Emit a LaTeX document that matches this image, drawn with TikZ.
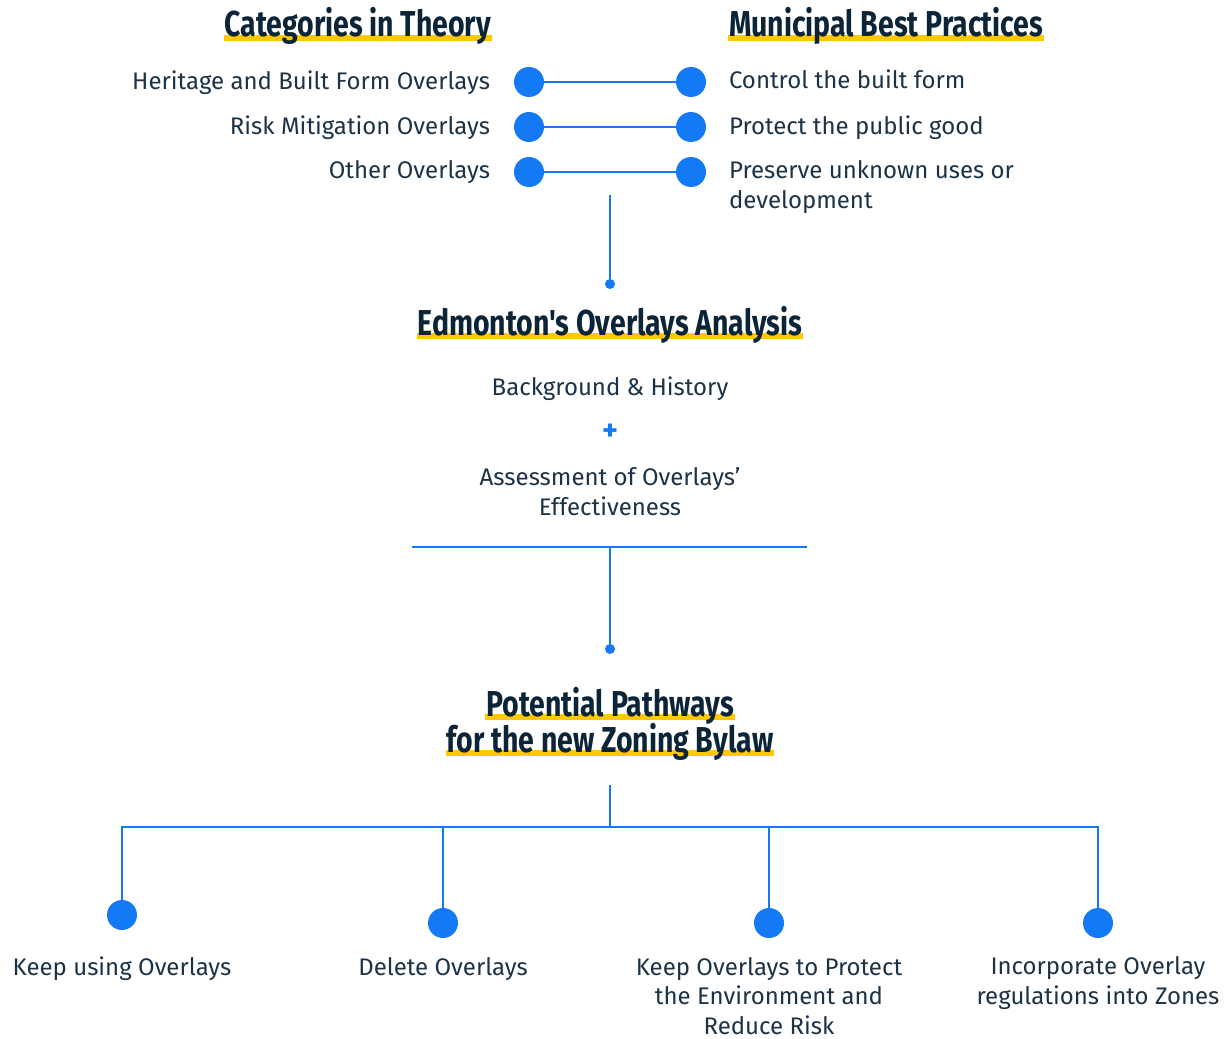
\documentclass[tikz,border=0pt]{standalone}
\usepackage{fontspec}
\setmainfont{Fira Sans}
\newfontfamily\titlefont{Fira Sans}[FakeStretch=0.79]
\usetikzlibrary{positioning,backgrounds}
\definecolor{navy}{HTML}{0B2437}
\definecolor{ink}{HTML}{1C3347}
\definecolor{azure}{HTML}{1479F5}
\definecolor{sun}{HTML}{FFC800}

\begin{document}
\begin{tikzpicture}[x=1pt,y=-1pt,
    title/.style={inner sep=0pt,outer sep=0pt,text=navy,font=\titlefont\bfseries\fontsize{36}{36}\selectfont},
    body/.style={inner sep=0pt,outer sep=0pt,text=ink,font=\fontsize{24}{29.5}\selectfont},
    bigdot/.style={circle,fill=azure,inner sep=0pt,minimum size=30pt},
    smalldot/.style={circle,fill=azure,inner sep=0pt,minimum size=10pt},
    link/.style={draw=azure,line width=1.3pt},
    hl/.style={fill=sun}]
        \useasboundingbox (0,0) rectangle (1230,1038);
        %
        \node[title,anchor=base east](cat) at (491,37){Categories in Theory};
        \node[title,anchor=base west](mbp) at (729,37){Municipal Best Practices};
        %
        \node[bigdot](d1) at (529,82){};
        \node[bigdot](d2) at (529,127){};
        \node[bigdot](d3) at (529,172){};
        \node[bigdot](e1) at (691,82){};
        \node[bigdot](e2) at (691,127){};
        \node[bigdot](e3) at (691,172){};
        \draw[link] (d1) -- (e1);
        \draw[link] (d2) -- (e2);
        \draw[link] (d3) -- (e3);
        %
        \node[body,anchor=base east](h1) at (490,90){Heritage and Built Form Overlays};
        \node[body,anchor=base east](h2) at (490,134){Risk Mitigation Overlays};
        \node[body,anchor=base east](h3) at (490,178){Other Overlays};
        \node[body,anchor=base west](r1) at (729,89){Control the built form};
        \node[body,anchor=base west](r2) at (729,134){Protect the public good};
        % multi-line: base is the last line
        \node[body,anchor=base west,align=left](r3) at (729,208){Preserve unknown uses or\\development};
        %
        \coordinate (top) at (610,195);
        \node[smalldot](p1) at (610,284){};
        \draw[link] (top) -- (p1);
        %
        \node[title,anchor=base](eoa) at (610,335){Edmonton's Overlays Analysis};
        \node[body,anchor=base](bg) at (610,395){Background \& History};
        \node[text=azure,inner sep=0pt,font=\bfseries\fontsize{30}{30}\selectfont](plus) at (610,432){+};
        \node[body,anchor=base,align=center](ass) at (610,515){Assessment of Overlays'\\Effectiveness};
        %
        \coordinate (sl) at (412,547);
        \coordinate (sr) at (807,547);
        \draw[link] (sl) -- (sr);
        \node[smalldot](p2) at (610,649){};
        \draw[link] (p2 |- sl) -- (p2);
        %
        \node[title,anchor=base](pp1) at (610,716){Potential Pathways};
        \node[title,anchor=base](pp2) at (610,752){for the new Zoning Bylaw};
        %
        \coordinate (stem) at (610,785);
        \coordinate (bra) at (610,827);
        \node[bigdot](k1) at (122,915){};
        \node[bigdot](k2) at (443,923){};
        \node[bigdot](k3) at (769,923){};
        \node[bigdot](k4) at (1098,923){};
        \draw[link] (stem) -- (bra);
        \draw[link] (k1) -- (k1 |- bra) -- (k4 |- bra) -- (k4);
        \draw[link] (k2) -- (k2 |- bra);
        \draw[link] (k3) -- (k3 |- bra);
        %
        \node[body,anchor=base](o1) at (122,975){Keep using Overlays};
        \node[body,anchor=base](o2) at (443,975){Delete Overlays};
        \node[body,anchor=base,align=center](o3) at (769,1034){Keep Overlays to Protect\\the Environment and\\Reduce Risk};
        \node[body,anchor=base,align=center](o4) at (1098,1004){Incorporate Overlay\\regulations into Zones};
        %
        \begin{scope}[on background layer]
        \foreach \t in {cat,mbp,eoa,pp1,pp2}
            \fill[hl] ([xshift=-1pt,yshift=2pt]\t.base west) rectangle ([xshift=1pt,yshift=-4pt]\t.base east);
        \end{scope}
    \end{tikzpicture}
\end{document}
